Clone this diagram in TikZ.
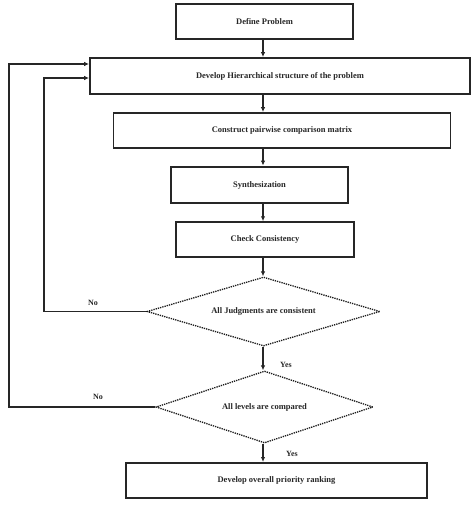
\documentclass[tikz,border=0pt]{standalone}
\usepackage{fontspec}
\setmainfont{Liberation Serif}
\usetikzlibrary{shapes.geometric,arrows.meta}
\begin{document}
\begin{tikzpicture}[x=1pt,y=-1pt,
  every node/.style={font=\fontsize{8.5}{10}\selectfont\bfseries, text=black!85},
  box/.style={draw=black!85, rectangle, inner sep=0pt},
  dia/.style={draw=black!90, diamond, inner sep=0pt, line width=1.3pt, dash pattern=on 1.3pt off 1pt},
  arr/.style={draw=black!85, line width=1.2pt, -{Latex[length=5pt,width=4.5pt]}},
  lbl/.style={font=\fontsize{8}{9}\selectfont\bfseries}]
\useasboundingbox (0,0) rectangle (474,505);
\node[box, line width=2pt, minimum width=177pt, minimum height=35pt] (b1) at (264.5,21.5) {Define Problem};
\node[box, line width=1.8pt, minimum width=380pt, minimum height=36pt] (b2) at (280,76) {Develop Hierarchical structure of the problem};
\node[box, line width=1.8pt, minimum width=337pt, minimum height=35pt] (b3) at (282,130.5) {Construct pairwise comparison matrix};
\node[box, line width=2.8pt, minimum width=177pt, minimum height=36pt] (b4) at (259.5,185) {Synthesization};
\node[box, line width=1.5pt, minimum width=178pt, minimum height=35pt] (b5) at (265,239.5) {Check Consistency};
\node[dia, aspect=3.38, minimum width=233pt, minimum height=69pt] (d1) at (263.5,311.5) {All Judgments are consistent};
\node[dia, aspect=3.0, minimum width=217pt, minimum height=72pt] (d2) at (264.5,407) {All levels are compared};
\node[box, line width=2pt, minimum width=301pt, minimum height=35pt] (b6) at (276.5,480.5) {Develop overall priority ranking};
\coordinate (ax) at (263,0);
\coordinate (lo) at (9,0);
\coordinate (li) at (44,0);
\coordinate (yo) at (0,64);
\coordinate (yi) at (0,78);
\draw[arr] (b1.south -| ax) -- (b2.north -| ax);
\draw[arr] (b2.south -| ax) -- (b3.north -| ax);
\draw[arr] (b3.south -| ax) -- (b4.north -| ax);
\draw[arr] (b4.south -| ax) -- (b5.north -| ax);
\draw[arr] (b5.south -| ax) -- (d1.north -| ax);
\draw[arr] (d1.south -| ax) -- (d2.north -| ax);
\draw[arr] (d2.south -| ax) -- (b6.north -| ax);
\draw[arr] (d1.west) -- (d1.west -| li) -- (yi -| li) -- (yi -| b2.west);
\draw[arr] (d2.west) -- (d2.west -| lo) -- (yo -| lo) -- (yo -| b2.west);
\node[lbl] (n1) at (93,303) {No};
\node[lbl] (n2) at (98,397) {No};
\node[lbl] (y1) at (286,365) {Yes};
\node[lbl] (y2) at (292,454) {Yes};
\end{tikzpicture}
\end{document}
